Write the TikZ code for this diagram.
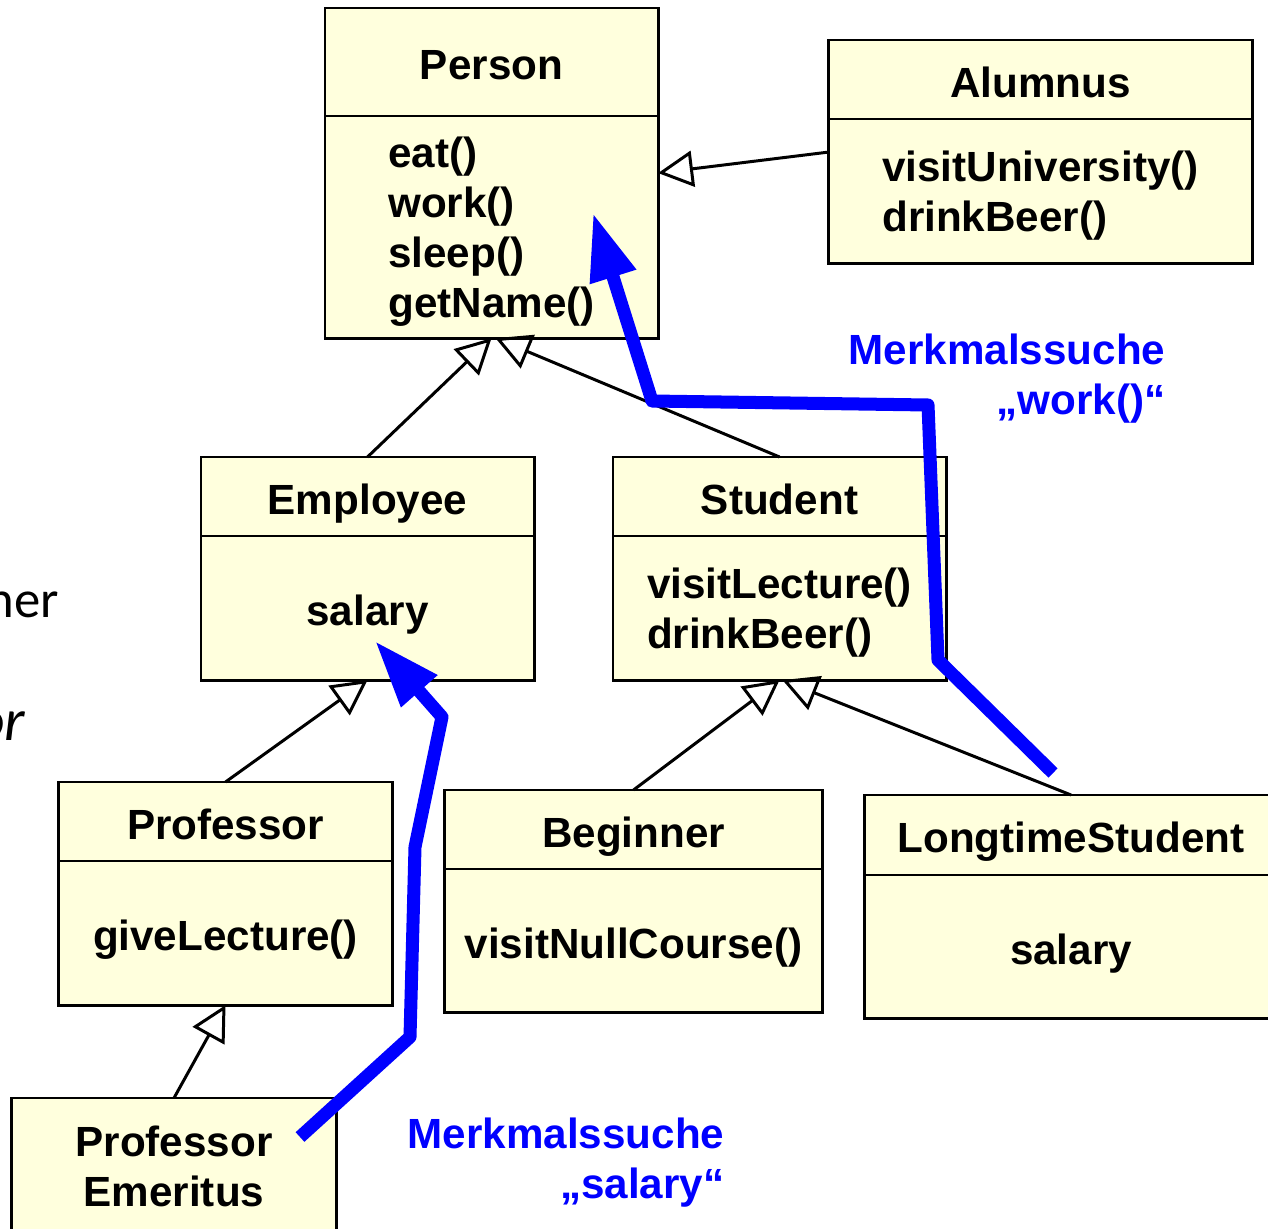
\documentclass[tikz,border=0pt]{standalone}
\usepackage{fontspec}
\setmainfont{Liberation Sans}
\newfontfamily\slidefont{Carlito}
\usetikzlibrary{arrows.meta}
\usetikzlibrary{positioning}
\definecolor{umlfill}{RGB}{255,255,221}
\newcommand{\topstrut}{\rule{0pt}{11.5pt}}

\begin{document}
\begin{tikzpicture}[x=0.01cm, y=-0.01cm,
        every node/.style={font=\bfseries\fontsize{12}{14.2}\selectfont},
        head/.style={draw, line width=0.8pt, fill=umlfill, inner sep=0pt, outer sep=0pt, align=center},
        oneline/.style={text height=10pt, text depth=0pt},
        body/.style={draw, line width=0.8pt, fill=umlfill, inner sep=0pt, outer sep=0pt, align=left},
        inherit/.style={line width=0.85pt, -{Triangle[open, length=0.35cm, width=0.36cm]}},
        search/.style={blue, line width=3.7pt, line join=round, -{Triangle[length=0.67cm, width=0.45cm]}},
        searchlabel/.style={text=blue, align=right, anchor=east, inner sep=0pt}]
        \useasboundingbox (0,0) rectangle (1268,1228);

        % cut-off text of the slide
        \node[font=\slidefont\fontsize{15}{18}\selectfont, anchor=base east, inner sep=0pt] (frag1) at (60,617) {ner};
        \node[font=\slidefont\itshape\fontsize{17}{20}\selectfont, anchor=base east, inner sep=0pt] (frag2) at (26,740) {or};

        % classes
        \node[head, oneline, minimum width=3.33cm, minimum height=1.08cm] (person) at (491.5,62) {Person};
        \node[body, minimum width=3.33cm, minimum height=2.22cm, below=0pt of person] (personb) {\topstrut eat()\\work()\\sleep()\\getName()};

        \node[head, oneline, minimum width=4.23cm, minimum height=0.79cm] (alumnus) at (1040.5,79.5) {Alumnus};
        \node[body, minimum width=4.23cm, minimum height=1.44cm, below=0pt of alumnus] (alumnusb) {\topstrut visitUniversity()\\drinkBeer()};

        \node[head, oneline, minimum width=3.33cm, minimum height=0.79cm] (employee) at (367.5,496.5) {Employee};
        \node[body, oneline, minimum width=3.33cm, minimum height=1.44cm, below=0pt of employee] (employeeb) {salary};

        \node[head, oneline, minimum width=3.33cm, minimum height=0.79cm] (student) at (779.5,496.5) {Student};
        \node[body, minimum width=3.33cm, minimum height=1.44cm, below=0pt of student] (studentb) {\topstrut visitLecture()\\drinkBeer()};

        \node[head, oneline, minimum width=3.33cm, minimum height=0.79cm] (professor) at (225.5,821.5) {Professor};
        \node[body, oneline, minimum width=3.33cm, minimum height=1.44cm, below=0pt of professor] (professorb) {giveLecture()};

        \node[head, oneline, minimum width=3.77cm, minimum height=0.79cm] (beginner) at (633.5,829.5) {Beginner};
        \node[body, oneline, minimum width=3.77cm, minimum height=1.43cm, below=0pt of beginner] (beginnerb) {visitNullCourse()};

        \node[head, oneline, minimum width=4.12cm, minimum height=0.80cm] (longtime) at (1071,835) {LongtimeStudent};
        \node[body, oneline, minimum width=4.12cm, minimum height=1.43cm, below=0pt of longtime] (longtimeb) {salary};

        \node[head, minimum width=3.24cm, minimum height=1.36cm] (emeritus) at (174,1166) {Professor\\Emeritus};

        % generalisations
        \draw[inherit] ([yshift=-0.33cm]alumnusb.north west) -- ([yshift=-0.57cm]personb.north east);
        \draw[inherit] (employee.north) -- (personb.south);
        \draw[inherit] (student.north) -- ([xshift=0.04cm]personb.south);
        \draw[inherit] (professor.north) -- (employeeb.south);
        \draw[inherit] (beginner.north) -- (studentb.south);
        \draw[inherit] (longtime.north) -- ([xshift=0.03cm]studentb.south);
        \draw[inherit] (emeritus.north) -- (professorb.south);

        % feature lookup
        \coordinate (w1) at (1053,773);
        \coordinate (w2) at (938,660);
        \coordinate (w3) at (928,405);
        \coordinate (w4) at (652,401);
        \coordinate (w5) at (593,213);
        \draw[search] (w1) -- (w2) -- (w3) -- (w4) -- (w5);

        \coordinate (s1) at (300,1137);
        \coordinate (s2) at (410,1037);
        \coordinate (s3) at (415,847);
        \coordinate (s4) at (442,717);
        \coordinate (s5) at (375,641);
        \draw[search] (s1) -- (s2) -- (s3) -- (s4) -- (s5);

        \node[searchlabel] (worklabel) at (1166,379) {Merkmalssuche\\„work()“};
        \node[searchlabel] (salarylabel) at (725,1163) {Merkmalssuche\\„salary“};
    \end{tikzpicture}
\end{document}
